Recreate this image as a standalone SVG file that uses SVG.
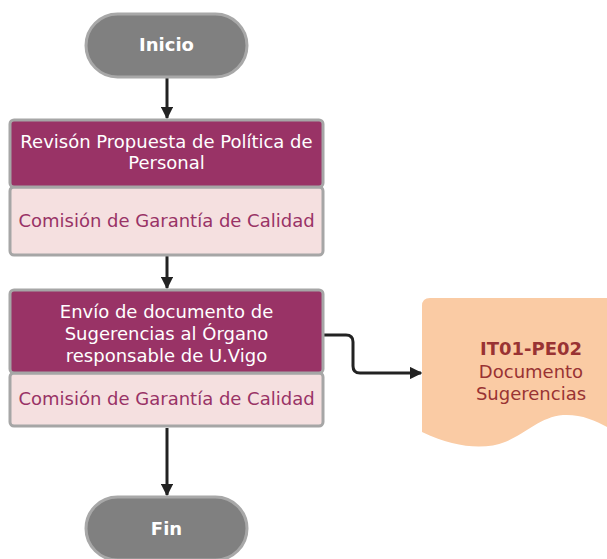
<svg xmlns="http://www.w3.org/2000/svg" width="607" height="559" viewBox="0 0 607 559">
<style>
.pill{fill:#808080;stroke:#a8a8a8;stroke-width:3}
.pt{fill:#ffffff;font-family:"DejaVu Sans",Verdana,sans-serif;font-size:18px;font-weight:bold;text-anchor:middle}
.top{fill:#993366;stroke:#a6a6a6;stroke-width:3}
.bot{fill:#f5e0e0;stroke:#a6a6a6;stroke-width:3}
.tw{fill:#ffffff;font-family:"DejaVu Sans",Verdana,sans-serif;font-size:18px;text-anchor:middle}
.tp{fill:#993366;font-family:"DejaVu Sans",Verdana,sans-serif;font-size:18px;text-anchor:middle}
.td{fill:#993333;font-family:"DejaVu Sans",Verdana,sans-serif;font-size:18px;text-anchor:middle}
.edge{fill:none;stroke:#222222;stroke-width:3}
</style>
<defs>
<marker id="ah" viewBox="0 0 10 10" refX="9" refY="5" markerWidth="4.2" markerHeight="4.2" orient="auto" markerUnits="strokeWidth">
<path d="M0,0 L10,5 L0,10 z" fill="#222222"/>
</marker>
</defs>
<g id="connectors">
<line class="edge" x1="167" y1="78" x2="167" y2="118" marker-end="url(#ah)"/>
<line class="edge" x1="167" y1="256" x2="167" y2="288" marker-end="url(#ah)"/>
<line class="edge" x1="167" y1="428" x2="167" y2="495" marker-end="url(#ah)"/>
<path class="edge" d="M324,335 L346,335 Q353,335 353,342 L353,366 Q353,373 360,373 L421,373" marker-end="url(#ah)"/>
</g>
<g id="inicio">
<rect class="pill" x="86" y="14" width="161" height="63" rx="31.5"/>
<text class="pt" x="166.5" y="51">Inicio</text>
</g>
<g id="revision">
<rect class="bot" x="10" y="187" width="313" height="68" rx="4"/>
<rect class="top" x="10" y="120" width="313" height="67" rx="4"/>
<text class="tw" x="166.5" y="148">Revisón Propuesta de Política de</text>
<text class="tw" x="166.5" y="169">Personal</text>
<text class="tp" x="166.5" y="227">Comisión de Garantía de Calidad</text>
</g>
<g id="envio">
<rect class="bot" x="10" y="373" width="313" height="53" rx="4"/>
<rect class="top" x="10" y="290" width="313" height="83" rx="4"/>
<text class="tw" x="166.5" y="318">Envío de documento de</text>
<text class="tw" x="166.5" y="340">Sugerencias al Órgano</text>
<text class="tw" x="166.5" y="362">responsable de U.Vigo</text>
<text class="tp" x="166.5" y="405">Comisión de Garantía de Calidad</text>
</g>
<g id="documento">
<path d="M422,306 Q422,298 430,298 L607,298 L607,427 C595,420 580,414 563,415 C540,417 525,434 505,442 C485,450 455,448 422,432 Z" fill="#facba4"/>
<text class="td" x="531" y="355" font-weight="bold">IT01-PE02</text>
<text class="td" x="531" y="378">Documento</text>
<text class="td" x="531" y="400">Sugerencias</text>
</g>
<g id="fin">
<rect class="pill" x="86" y="497" width="161" height="63" rx="31.5"/>
<text class="pt" x="166.5" y="535">Fin</text>
</g>
</svg>
